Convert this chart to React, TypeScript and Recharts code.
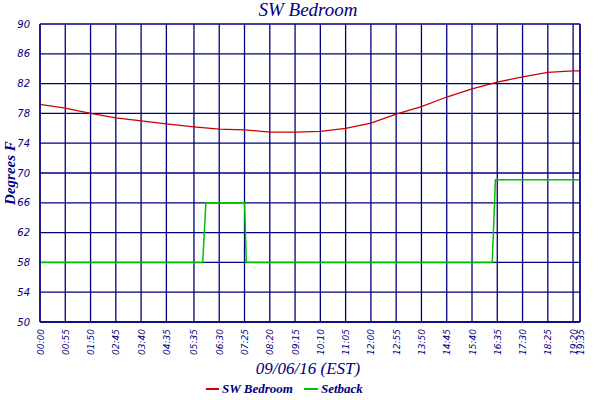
import React from "react";
import { LineChart, Line, CartesianGrid, XAxis, YAxis } from "recharts";

// minutes since midnight for the temperature samples
const tempMinutes = [0, 55, 110, 165, 220, 275, 335, 390, 445, 500, 555, 610, 665, 720, 775, 830, 885, 940, 995, 1050, 1105, 1160, 1175];
const tempValues = [79.2, 78.7, 78.0, 77.4, 77.0, 76.6, 76.2, 75.9, 75.8, 75.5, 75.5, 75.6, 76.0, 76.7, 77.9, 78.9, 80.2, 81.3, 82.2, 82.9, 83.5, 83.7, 83.7];

const setbackMinutes = [0, 354, 361, 445, 449, 984, 991, 1175];
const setbackValues = [58, 58, 66, 66, 58, 58, 69.1, 69.1];

const xTicks = [0, 55, 110, 165, 220, 275, 335, 390, 445, 500, 555, 610, 665, 720, 775, 830, 885, 940, 995, 1050, 1105, 1160, 1175];
const xTickLabels = ["00:00", "00:55", "01:50", "02:45", "03:40", "04:35", "05:35", "06:30", "07:25", "08:20", "09:15", "10:10", "11:05", "12:00", "12:55", "13:50", "14:45", "15:40", "16:35", "17:30", "18:25", "19:20", "19:35"];
const yTicks = [50, 54, 58, 62, 66, 70, 74, 78, 82, 86, 90];

const tempData = tempMinutes.map((t, i) => ({ t, v: tempValues[i] }));
const setbackData = setbackMinutes.map((t, i) => ({ t, v: setbackValues[i] }));

const NAVY = "#000080";
const serif = "'Liberation Serif', 'DejaVu Serif', serif";
const sans = "'DejaVu Sans', Verdana, sans-serif";

const XTick = (props: any) => {
  const { x, y, payload } = props;
  const i = xTicks.indexOf(payload.value);
  return (
    <text
      transform={`translate(${x + 3.5},${y - 1}) rotate(-90)`}
      textAnchor="end"
      fill={NAVY}
      fontSize={9}
      fontStyle="italic"
      fontFamily={sans}
    >
      {xTickLabels[i]}
    </text>
  );
};

const App = () => (
  <div style={{ position: "absolute", left: 0, top: 0, width: 600, height: 400, background: "#fff" }}>
    <div style={{ position: "absolute", left: 0, width: 616, top: 0, textAlign: "center", fontFamily: serif, fontStyle: "italic", fontSize: 19, color: NAVY, lineHeight: "20px" }}>
      SW Bedroom
    </div>
    <div style={{ position: "absolute", left: 10, top: 173, transform: "translate(-50%,-50%) rotate(-90deg)", whiteSpace: "nowrap", fontFamily: serif, fontStyle: "italic", fontWeight: "bold", fontSize: 15, color: NAVY }}>
      Degrees F
    </div>
    <LineChart width={600} height={400} data={tempData} margin={{ top: 24, right: 0, left: 0, bottom: 0 }}>
      <CartesianGrid yAxisId="left" stroke={NAVY} strokeWidth={1.3} />
      <XAxis
        dataKey="t"
        type="number"
        domain={[0, 1175]}
        ticks={xTicks}
        interval={0}
        tick={<XTick />}
        tickLine={false}
        axisLine={{ stroke: NAVY, strokeWidth: 1.3 }}
        height={78}
      />
      <YAxis
        yAxisId="left"
        domain={[50, 90]}
        ticks={yTicks}
        width={40}
        tickLine={false}
        tickMargin={4}
        axisLine={{ stroke: NAVY, strokeWidth: 1.3 }}
        tick={{ fill: NAVY, fontSize: 10, fontStyle: "italic", fontFamily: sans }}
      />
      <YAxis
        yAxisId="right"
        orientation="right"
        domain={[50, 90]}
        ticks={yTicks}
        width={20}
        tickLine={false}
        tickMargin={3}
        axisLine={{ stroke: NAVY, strokeWidth: 1.3 }}
        tick={{ fill: NAVY, fontSize: 10, fontStyle: "italic", fontFamily: sans, textAnchor: "start" }}
      />
      <Line yAxisId="left" data={tempData} dataKey="v" type="linear" stroke="#cc0000" strokeWidth={1.3} dot={false} isAnimationActive={false} />
      <Line yAxisId="left" data={setbackData} dataKey="v" type="linear" stroke="#00c000" strokeWidth={1.5} dot={false} isAnimationActive={false} />
    </LineChart>
    <div style={{ position: "absolute", left: 0, width: 616, top: 359, textAlign: "center", fontFamily: serif, fontStyle: "italic", fontSize: 17, color: NAVY, lineHeight: "20px" }}>
      09/06/16 (EST)
    </div>
    <div style={{ position: "absolute", left: 206, top: 380, display: "flex", alignItems: "center", fontFamily: serif, fontStyle: "italic", fontWeight: "bold", fontSize: 13, color: NAVY, lineHeight: "18px" }}>
      <span style={{ display: "inline-block", width: 13, height: 2, background: "#cc0000", marginRight: 3 }} />
      <span style={{ marginRight: 11 }}>SW Bedroom</span>
      <span style={{ display: "inline-block", width: 14, height: 2, background: "#00c000", marginRight: 3 }} />
      <span>Setback</span>
    </div>
  </div>
);

export default App;
